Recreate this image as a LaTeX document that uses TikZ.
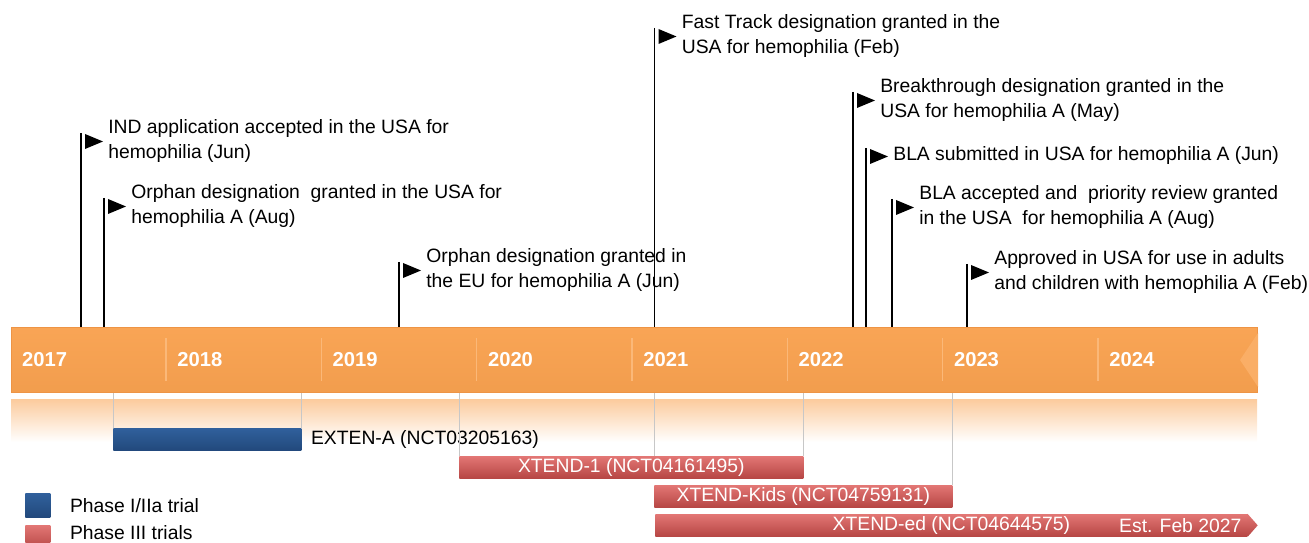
\documentclass[tikz,border=0pt]{standalone}
\usepackage{fontspec}
\setmainfont{Liberation Sans}
\usetikzlibrary{positioning,calc}

\definecolor{tlorange}{HTML}{F9A250}
\definecolor{tledge}{HTML}{EE9445}
\definecolor{tltick}{HTML}{FBB878}
\definecolor{bluetop}{HTML}{30609C}
\definecolor{bluebot}{HTML}{22497C}
\definecolor{redtop}{HTML}{E27674}
\definecolor{redbot}{HTML}{B64644}
\newcommand{\px}{0.02cm}

\begin{document}
\begin{tikzpicture}[
  x=\px, y=-\px,
  font=\fontsize{11}{13.9}\selectfont,
  yearlbl/.style = {anchor=west, inner sep=0pt, text=white,
                    font=\fontsize{11.5}{14}\selectfont\bfseries},
  pole/.style = {line width=1pt, black},
  event/.style = {align=left, inner sep=0pt},
  guide/.style = {line width=0.5pt, black!22},
  trialbar/.style = {anchor=north west, inner sep=0pt,
                     minimum height=22*\px, text=white},
  bluebar/.style = {trialbar, top color=bluetop, bottom color=bluebot},
  redbar/.style = {trialbar, top color=redtop, bottom color=redbot},
  keybox/.style = {anchor=north west, inner sep=0pt,
                   minimum width=25*\px, minimum height=24*\px},
]
\clip (0,0) rectangle (1309,543);

% timeline bar and its reflection
\shade[top color=tlorange!55, bottom color=white] (11,400) rectangle (1257,442);
\node[anchor=north west, inner sep=0pt, minimum width=1246*\px,
      minimum height=65*\px, top color=tlorange!97!white,
      bottom color=tlorange!97!black, draw=tledge, line width=0.6pt]
      (bar) at (11,327) {};
\fill[tltick!55!tlorange] ([yshift=-6*\px]bar.north east) -- ([xshift=-18*\px]bar.east)
  -- ([yshift=6*\px]bar.south east) -- cycle;

\foreach \k in {1,...,7}
  \draw[tltick, line width=0.7pt] ({10.67+155.33*\k},338) -- ({10.67+155.33*\k},381);
\foreach \yr [count=\k from 0] in {2017,...,2024}
  \node[yearlbl] (yr\yr) at ({21.7+155.33*\k},360) {\yr};

% milestones: flag on a pole standing on the bar
\foreach \n/\x/\t/\txt in {
  ind/81/133/{IND application accepted in the USA for\\hemophilia (Jun)},
  orphus/104/198/{Orphan designation\ \ granted in the USA for\\hemophilia A (Aug)},
  orpheu/399/262/{Orphan designation granted in\\the EU for hemophilia A (Jun)},
  fast/654.5/28/{Fast Track designation granted in the\\USA for hemophilia (Feb)},
  btd/853/92/{Breakthrough designation granted in the\\USA for hemophilia A (May)},
  blasub/866/148/{BLA submitted in USA for hemophilia A (Jun)},
  blaacc/892/199/{BLA accepted and\ \ priority review granted\\in the USA\ \ for hemophilia A (Aug)},
  appr/967/264/{Approved in USA for use in adults\\and children with hemophilia A (Feb)}%
}{
  \coordinate (\n) at (\x,\t);
  \draw[pole] (\n) -- (\n |- bar.north);
  \fill ($(\n)+(4,1)$) -- ++(0,15) -- ++(18,-7.5) -- cycle;
  \coordinate (\n-tip) at ($(\n)+(22,8)$);
  \node[event, right=0.1cm of \n-tip] (\n-txt) {\txt};
}

% trials
\node[bluebar, minimum width=188*\px] (exten) at (113,428) {};
\node[right=0.18cm of exten, inner sep=0pt] (exten-txt) {EXTEN-A (NCT03205163)};
\node[redbar, minimum width=344*\px] (xtend1) at (459,456) {XTEND-1 (NCT04161495)};
\node[redbar, minimum width=298*\px] (kids) at (654,485) {XTEND-Kids (NCT04759131)};
\node[redbar, minimum width=592*\px] (ed) at (655,514) {XTEND-ed (NCT04644575)};
\shade[top color=redtop, bottom color=redbot]
  (ed.north east) -- ([xshift=10*\px]ed.east) -- (ed.south east) -- cycle;
\node[anchor=east, inner sep=0pt, text=white] (ed-end) at ([xshift=-6*\px]ed.east) {Est. Feb 2027};

\draw[guide] (exten.north west) -- (exten.north west |- bar.south);
\draw[guide] (exten.north east) -- (exten.north east |- bar.south);
\draw[guide] (xtend1.north west) -- (xtend1.north west |- bar.south);
\draw[guide] (xtend1.north east) -- (xtend1.north east |- bar.south);
\draw[guide] (kids.north west |- xtend1.north) -- (kids.north west |- bar.south);
\draw[guide] (kids.north east) -- (kids.north east |- bar.south);

% legend
\node[keybox, top color=bluetop, bottom color=bluebot] (key1) at (25,493) {};
\node[right=0.38cm of key1, inner sep=0pt] (key1-txt) {Phase I/IIa trial};
\node[keybox, top color=redtop, bottom color=redbot] (key3) at (25,525) {};
\node[right=0.38cm of key3, inner sep=0pt, yshift=0.1cm] (key3-txt) {Phase III trials};
\end{tikzpicture}
\end{document}
